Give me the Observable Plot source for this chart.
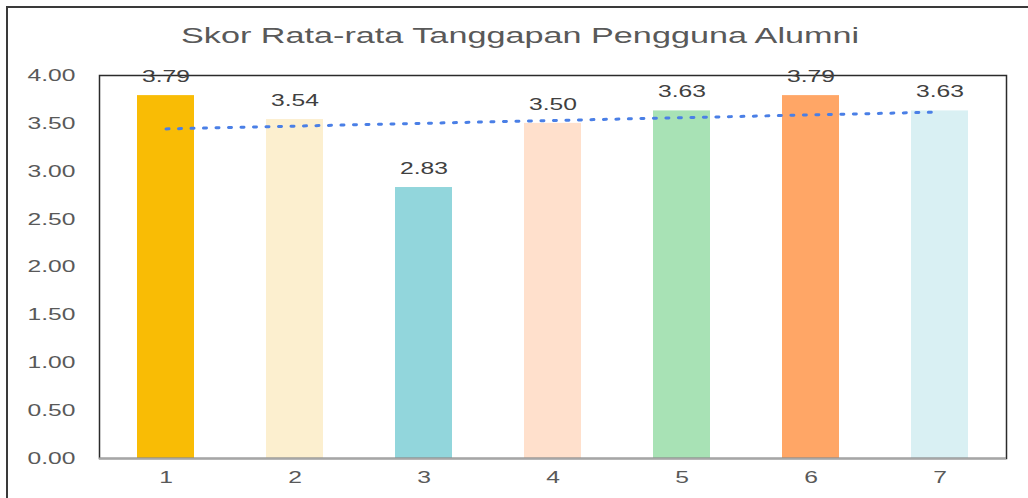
<!DOCTYPE html>
<html>
<head>
<meta charset="utf-8">
<script src="https://cdn.jsdelivr.net/npm/d3@7"></script>
<script src="https://cdn.jsdelivr.net/npm/@observablehq/plot@0.6"></script>
<style>
  html, body { margin: 0; padding: 0; background: #fff; overflow: hidden; }
  #wrap { position: relative; width: 1028px; height: 498px; overflow: hidden; }
  #outer { position: absolute; left: 6px; top: 6px; width: 1100px; height: 600px; border: 2px solid #3a3a3a; box-sizing: border-box; pointer-events: none; }
  #title { position: relative; height: 60px; width: 1040px; text-align: center; font-family: "Liberation Sans", Arial, sans-serif; font-size: 22.5px; color: #595959; }
  #title span { display: inline-block; margin-top: 23px; transform: scaleX(1.52); transform-origin: center; white-space: nowrap; }
  svg { display: block; }
</style>
</head>
<body>
<div id="wrap">
  <div id="outer"></div>
  <div id="title"><span>Skor Rata-rata Tanggapan Pengguna Alumni</span></div>
  <div id="chart"></div>
</div>
<script>
const categories = ["1", "2", "3", "4", "5", "6", "7"];
const values = [3.79, 3.54, 2.83, 3.50, 3.63, 3.79, 3.63];
const colors = ["#f9bc05", "#fcefcf", "#92d6dc", "#ffe0cc", "#a8e2b5", "#ffa666", "#d9f0f3"];
const yTicks = [0, 0.5, 1, 1.5, 2, 2.5, 3, 3.5, 4];

const data = categories.map((c, i) => ({c, v: values[i]}));

// linear trend line (least squares over bar index)
const xs = categories.map((c, i) => i + 1);
const mx = d3.mean(xs), my = d3.mean(values);
const slope = d3.sum(xs, (x, i) => (x - mx) * (values[i] - my)) / d3.sum(xs, x => (x - mx) ** 2);
const icpt = my - slope * mx;
const trend = categories.map((c, i) => ({c, t: icpt + slope * xs[i]}));

const chart = Plot.plot({
  width: 1028,
  height: 438,
  marginLeft: 99,
  marginRight: 22,
  marginTop: 15,
  marginBottom: 40,
  style: {fontFamily: "'Liberation Sans', Arial, sans-serif", fontSize: "17px", color: "#595959", background: "transparent"},
  x: {domain: categories, paddingInner: 0.56, paddingOuter: 0.28, label: null, tickSize: 0, tickPadding: 12},
  y: {domain: [0, 4], ticks: yTicks, tickFormat: d => d.toFixed(2), label: null, tickSize: 0, tickPadding: 24},
  color: {domain: categories, range: colors},
  marks: [
    Plot.barY(data, {x: "c", y: "v", fill: "c"}),
    Plot.frame({stroke: "#2b2b2b", strokeWidth: 1.5}),
    Plot.ruleY([0], {stroke: "#a6a6a6", strokeWidth: 2}),
    Plot.line(trend, {x: "c", y: "t", stroke: "#4a7fe6", strokeWidth: 3, strokeDasharray: "3,9.5"}),
    Plot.text(data, {x: "c", y: "v", text: d => d.v.toFixed(2), dy: -19, fill: "#404040", fontSize: 17})
  ]
});
document.getElementById("chart").appendChild(chart);

// horizontal stretch of the text glyphs, as in the reference
chart.querySelectorAll("text").forEach(t => {
  const ax = parseFloat(t.getAttribute("x") || "0") || 0;
  const tr = t.getAttribute("transform") || "";
  t.setAttribute("transform", `${tr} translate(${ax},0) scale(1.45,1) translate(${-ax},0)`);
});
</script>
</body>
</html>
